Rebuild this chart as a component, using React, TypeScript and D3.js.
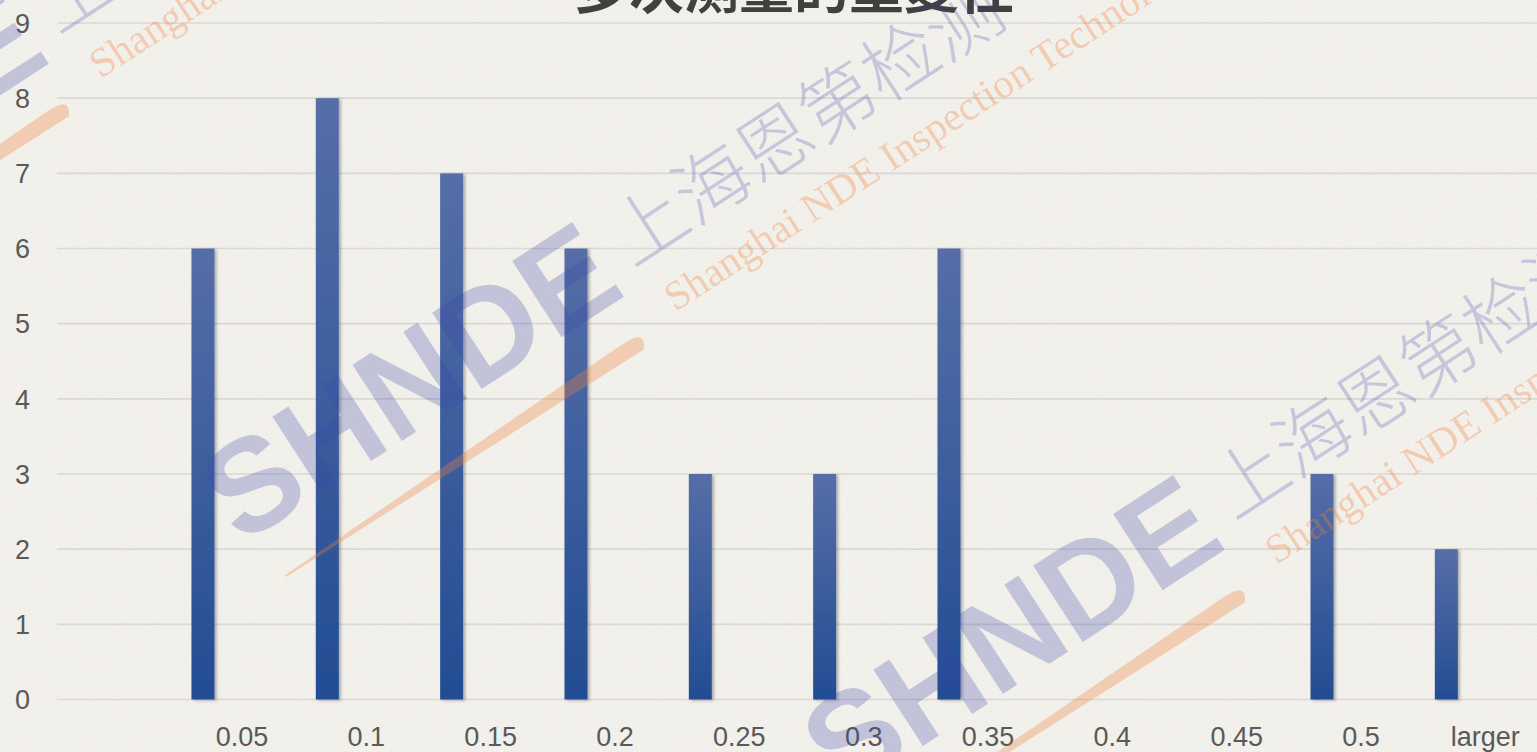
import React from "react";
import * as d3 from "d3";

const categories = ["0.05", "0.1", "0.15", "0.2", "0.25", "0.3", "0.35", "0.4", "0.45", "0.5", "larger"];
const values = [6, 8, 7, 6, 3, 3, 6, 0, 0, 3, 2];
const yTicks = [0, 1, 2, 3, 4, 5, 6, 7, 8, 9];
const title = "多次测量的重复性";
const wmOffsets = [[-575, -233], [0, 0], [601, 253]];

const W = 1537;
const H = 752;

export default function App() {
  const x = d3.scaleBand<string>().domain(categories).range([179.8, 1547.5]).paddingInner(0).paddingOuter(0);
  const y = d3.scaleLinear().domain([0, 9]).range([699.5, 23]);
  const bw = 23;
  const barOffset = -39; // bar center relative to category center
  const gridX1 = 57;

  return (
    <svg width={W} height={H} style={{ position: "absolute", left: 0, top: 0 }}>
      <defs>
        <linearGradient id="barGrad" x1="0" y1="0" x2="0" y2="1">
          <stop offset="0" stopColor="#566ea8" />
          <stop offset="1" stopColor="#224d93" />
        </linearGradient>
        <filter id="shadow" x="-50%" y="-5%" width="200%" height="110%">
          <feDropShadow dx="2" dy="1" stdDeviation="1.8" floodColor="#000" floodOpacity="0.3" />
        </filter>
        <filter id="noise" x="0" y="0" width="100%" height="100%">
          <feTurbulence type="fractalNoise" baseFrequency="0.9" numOctaves="2" seed="3" result="t" />
          <feColorMatrix in="t" type="matrix"
            values="0 0 0 0 0.55  0 0 0 0 0.53  0 0 0 0 0.5  0 0 0 -2.2 1.25" />
        </filter>
      </defs>
      <rect x={0} y={0} width={W} height={H} fill="#f3f1ec" />
      <rect x={0} y={0} width={W} height={H} filter="url(#noise)" opacity={0.12} />

      {yTicks.map((t) => (
        <line key={"g" + t} x1={gridX1} x2={W} y1={y(t)} y2={y(t)} stroke="#d9d8d5" strokeWidth={1.6} />
      ))}

      {yTicks.map((t) => (
        <text key={"yt" + t} x={22.5} y={y(t)} dy="0.36em" textAnchor="middle"
          fontFamily="'Liberation Sans', Arial, sans-serif" fontSize={27} fill="#595959">{t}</text>
      ))}

      {categories.map((c, i) => (
        values[i] > 0 ? (
          <rect key={"b" + c} x={(x(c) as number) + x.bandwidth() / 2 + barOffset - bw / 2}
            y={y(values[i])} width={bw} height={y(0) - y(values[i])}
            fill="url(#barGrad)" filter="url(#shadow)" />
        ) : null
      ))}

      {categories.map((c) => (
        <text key={"xt" + c} x={(x(c) as number) + x.bandwidth() / 2} y={746} textAnchor="middle"
          fontFamily="'Liberation Sans', Arial, sans-serif" fontSize={27} fill="#595959">{c}</text>
      ))}

      <text x={794} y={8} textAnchor="middle" fontFamily="'Noto Sans CJK SC', sans-serif"
        fontWeight={700} fontSize={55} fill="#404040">{title}</text>

      {wmOffsets.map(([dx, dy], k) => (
        <g key={"wm" + k} transform={`translate(${232 + dx},${525 + dy}) rotate(-33)`}>
          <path d="M17,71 L425,61 Q455,60 441,77 L17,73 Z" fill="rgb(240,130,60)" opacity={0.32} />
          <text x={-4} y={22} fontFamily="'Liberation Sans', Arial, sans-serif" fontWeight={700}
            fontSize={132} fill="rgb(60,70,170)" opacity={0.26}>SHNDE</text>
          <text x={476} y={2} fontFamily="'Noto Sans CJK SC', sans-serif" fontWeight={300}
            fontSize={75} fill="rgb(60,70,170)" opacity={0.24}>上海恩第检测</text>
          <text x={488} y={63} fontFamily="'Liberation Serif', serif" fontWeight={400}
            fontSize={41} fill="rgb(240,130,60)" opacity={0.32}>Shanghai NDE Inspection Technology</text>
        </g>
      ))}
    </svg>
  );
}
